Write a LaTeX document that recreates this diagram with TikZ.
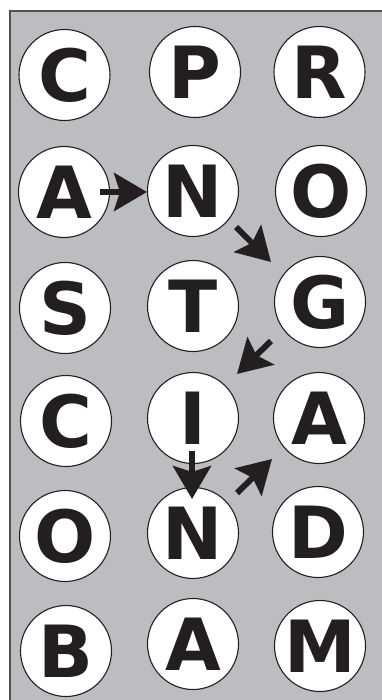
\documentclass[tikz,border=0pt]{standalone}
\usepackage{fontspec}
\setmainfont{DejaVu Sans}
\usetikzlibrary{arrows.meta}
\definecolor{bggray}{RGB}{187,189,193}
\definecolor{edge}{RGB}{80,80,82}
\definecolor{ink}{RGB}{35,31,32}
\tikzset{
  ball/.style={circle, draw=ink, line width=1.1pt, fill=white, minimum size=91pt, inner sep=0pt,
    font=\fontsize{72}{72}\selectfont\bfseries, text=ink},
  arr/.style={draw=ink, line width=6pt, -{Stealth[length=33pt, width=38pt, inset=6pt]}}
}
\begin{document}
\begin{tikzpicture}[x=1pt,y=-1pt]
\useasboundingbox (0,0) rectangle (382,700);
\fill[bggray] (10,11) rectangle (390,710);
\draw[edge, line width=1.5pt] (10,710) -- (10,11) -- (390,11);
% row 1
\node[ball] (c1) at (64.5,75) {C};
\node[ball] (p1) at (195,72) {P};
\node[ball] (r1) at (319.5,72) {R};
% row 2
\node[ball] (a2) at (64,192) {A};
\node[ball] (n2) at (193,191) {N};
\node[ball] (o2) at (321,191) {O};
% row 3
\node[ball] (s3) at (65,308) {S};
\node[ball] (t3) at (193,306) {T};
\node[ball] (g3) at (320,302) {G};
% row 4
\node[ball] (c4) at (66,421) {C};
\node[ball] (i4) at (193,418) {I};
\node[ball] (a4) at (319,418) {A};
% row 5
\node[ball] (o5) at (65,536) {O};
\node[ball] (n5) at (193,533) {N};
\node[ball] (d5) at (318,532) {D};
% row 6
\node[ball] (b6) at (66,651) {B};
\node[ball] (a6) at (193,644) {A};
\node[ball] (m6) at (320,646) {M};
% arrows
\draw[arr] ([shift={(36,0)}]a2.center) -- ([shift={(-46,1)}]n2.center);
\draw[arr] ([shift={(43,36)}]n2.center) -- ([shift={(-49,-40)}]g3.center);
\draw[arr] ([shift={(-49,39)}]g3.center) -- ([shift={(44,-44)}]i4.center);
\draw[arr] ([shift={(-1,33)}]i4.center) -- ([shift={(-1,-34)}]n5.center);
\draw[arr] ([shift={(44,-40)}]n5.center) -- ([shift={(-47,41)}]a4.center);
\end{tikzpicture}
\end{document}
